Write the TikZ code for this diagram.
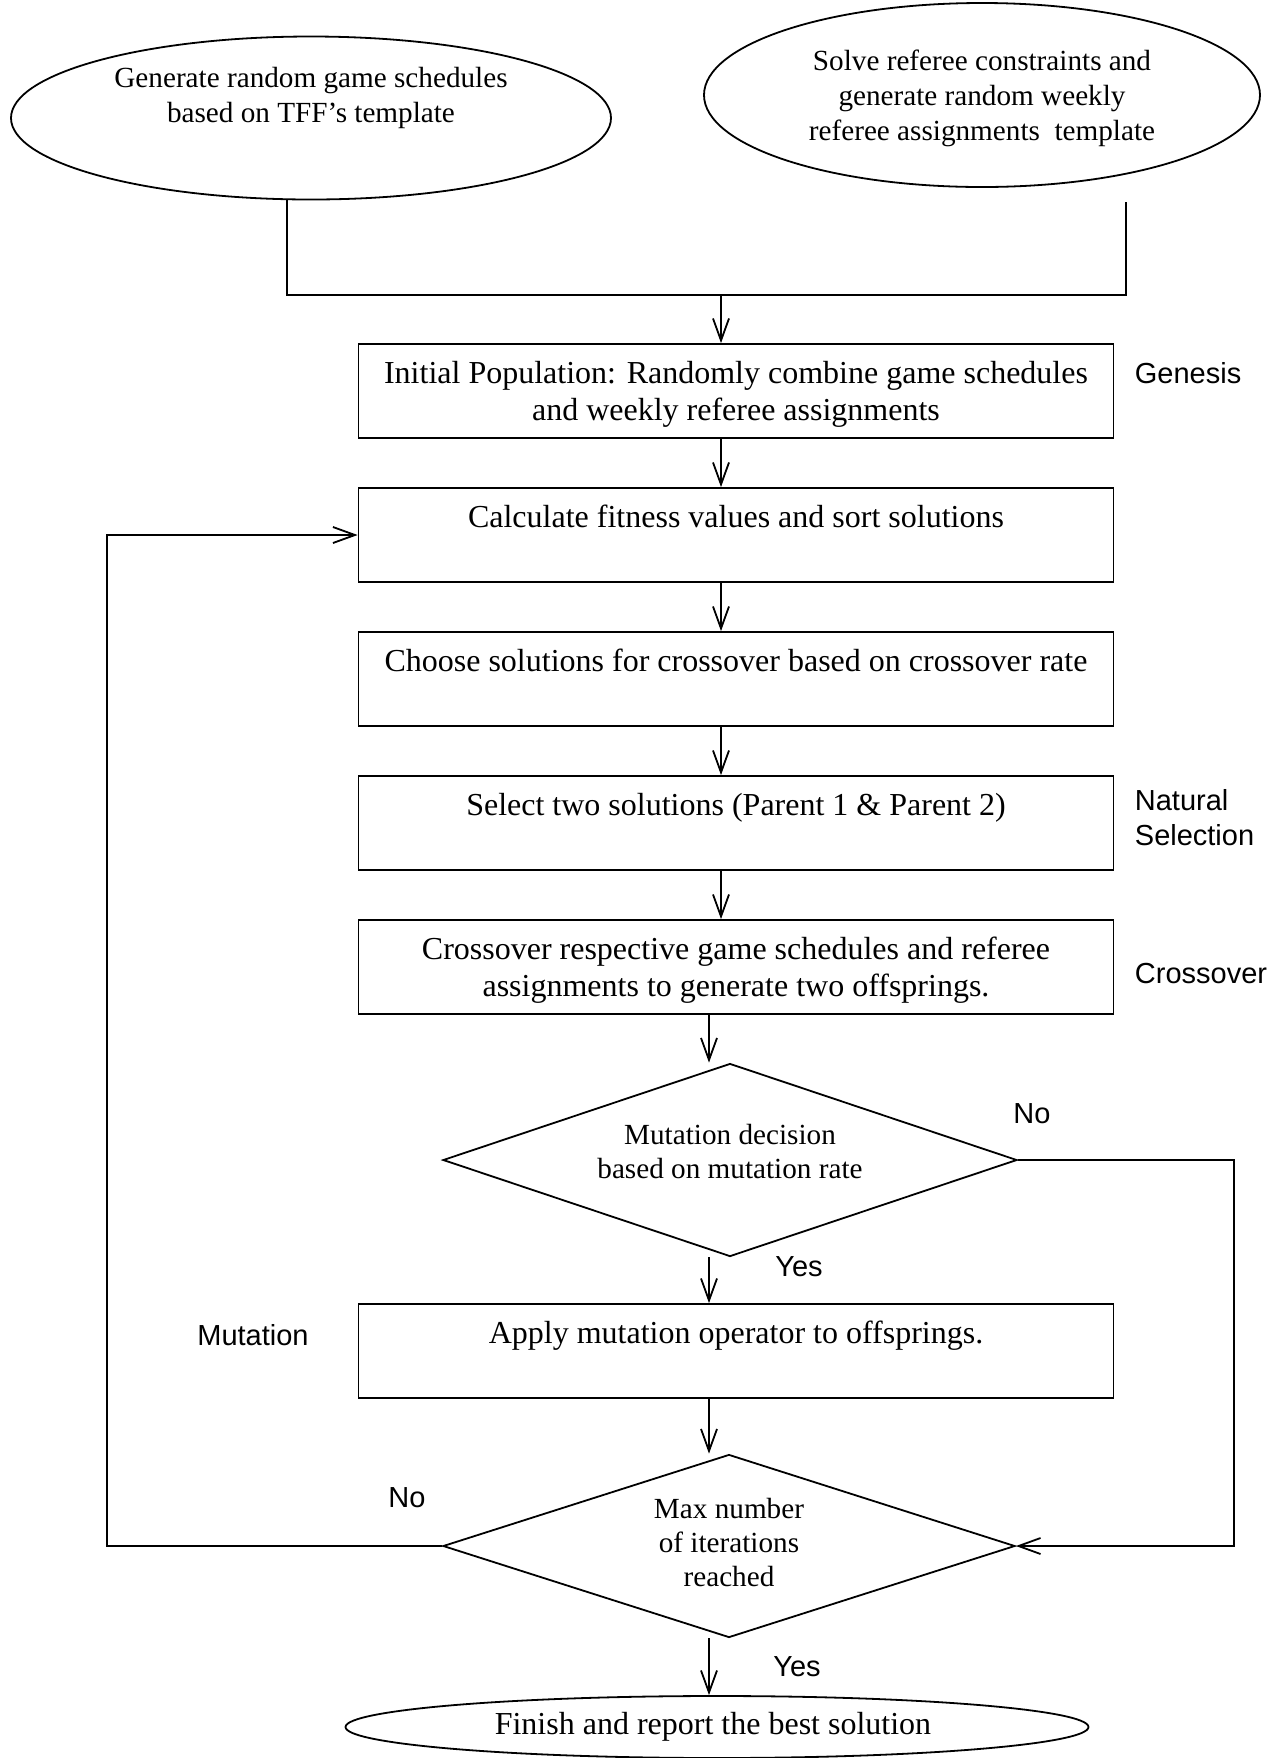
\documentclass[tikz,border=0pt]{standalone}
\usepackage{fontspec}
\setmainfont{Liberation Serif}
\setsansfont{Liberation Sans}
\usetikzlibrary{arrows.meta,shapes.geometric}

\begin{document}
\begin{tikzpicture}[x=0.5pt, y=-0.5pt, line width=0.9pt,
    >={Straight Barb[length=11pt,width=8pt]},
    every node/.style={
        inner sep=0pt,
        align=center
    },
    process/.style={rectangle, draw, minimum width=377.5pt, minimum height=47pt,
        font=\fontsize{16pt}{18.5pt}\selectfont},
    terminal/.style={ellipse, draw, font=\fontsize{14.6pt}{17.4pt}\selectfont},
    decision/.style={diamond, draw, aspect=3, font=\fontsize{14.6pt}{17pt}\selectfont},
    stage/.style={anchor=west, align=left, font=\sffamily\fontsize{14.5pt}{17.5pt}\selectfont},
    answer/.style={font=\sffamily\fontsize{14.5pt}{17.5pt}\selectfont}
]
    \useasboundingbox (0, 0) rectangle (1273, 1758);

    \node (gen_games) [terminal, minimum width=300pt, minimum height=81.5pt, text depth=5.5pt, shift={(311, 118)}]
    {
        Generate random game schedules\\ based on TFF’s template\\ ~
    };
    \node (gen_referee) [terminal, minimum width=278pt, minimum height=92pt, text depth=-6pt, shift={(982, 95)}]
    {
        Solve referee constraints and\\ generate random weekly\\ referee assignments\ \ template
    };



    \node (init_pop) [process, text depth=-6.5pt, shift={(736, 391)}]
    {
        Initial Population: Randomly combine game schedules\\ and weekly referee assignments
    };
    \node (fitness) [process, shift={(736, 535)}]
    {
        Calculate fitness values and sort solutions\\ ~
    };
    \node (choose) [process, shift={(736, 679)}]
    {
        Choose solutions for crossover based on crossover rate\\ ~
    };
    \node (select) [process, shift={(736, 823)}]
    {
        Select two solutions (Parent 1 \& Parent 2)\\ ~
    };
    \node (crossover) [process, text depth=0pt, shift={(736, 967)}]
    {
        Crossover respective game schedules and referee\\ assignments to generate two offsprings.
    };



    \node (mutate_decision) [decision, minimum width=287pt, minimum height=96.5pt, text depth=9pt, shift={(730, 1160)}]
    {
        Mutation decision\\ based on mutation rate
    };
    \node (mutate) [process, shift={(736, 1351)}]
    {
        Apply mutation operator to offsprings.\\ ~
    };
    \node (max_iter) [decision, minimum width=286pt, minimum height=91.5pt, text depth=3.4pt, shift={(729, 1546)}]
    {
        Max number\\ of iterations\\ reached
    };
    \node (finish) [terminal, minimum width=371.5pt, minimum height=31pt,
        font=\fontsize{16pt}{18.5pt}\selectfont, shift={(717, 1727)}]
    {
        Finish and report the best solution
    };



    \node (lbl_genesis) [stage, shift={(1134, 373)}] {Genesis};
    \node (lbl_natural) [stage, shift={(1134, 818)}] {Natural\\ Selection};
    \node (lbl_crossover) [stage, shift={(1134, 974)}] {Crossover};
    \node (lbl_mutation) [answer, shift={(253, 1335)}] {Mutation};

    \node (no_mutate) [answer, shift={(1032, 1114)}] {No};
    \node (yes_mutate) [answer, shift={(799, 1267)}] {Yes};
    \node (no_max) [answer, shift={(407, 1498)}] {No};
    \node (yes_max) [answer, shift={(797, 1667)}] {Yes};



    \coordinate (left_leg) at (287, 295);
    \coordinate (right_leg) at (1126, 295);
    \coordinate (right_top) at (1126, 202);
    \coordinate (join) at (721, 295);
    \coordinate (spine_low) at (709, 0);
    \coordinate (back_x) at (107, 0);
    \coordinate (no_x) at (1234, 0);

    \draw (gen_games.south -| left_leg) -- (left_leg) -- (right_leg) -- (right_top);
    \draw[->] (join) -- (init_pop.north -| join);
    \draw[->] (init_pop.south -| join) -- (fitness.north -| join);
    \draw[->] (fitness.south -| join) -- (choose.north -| join);
    \draw[->] (choose.south -| join) -- (select.north -| join);
    \draw[->] (select.south -| join) -- (crossover.north -| join);
    \draw[->] (crossover.south -| spine_low) -- (mutate_decision.north -| spine_low);
    \draw[->] (mutate_decision.south -| spine_low) -- (mutate.north -| spine_low);
    \draw[->] (mutate.south -| spine_low) -- (max_iter.north -| spine_low);
    \draw[->] (max_iter.south -| spine_low) -- (finish.north -| spine_low);
    \draw[->] (mutate_decision.east) -- (mutate_decision.east -| no_x) -- (max_iter.east -| no_x) -- (max_iter.east);
    \draw[->] (max_iter.west) -- (max_iter.west -| back_x) -- (fitness.west -| back_x) -- (fitness.west);


\end{tikzpicture}
\end{document}
